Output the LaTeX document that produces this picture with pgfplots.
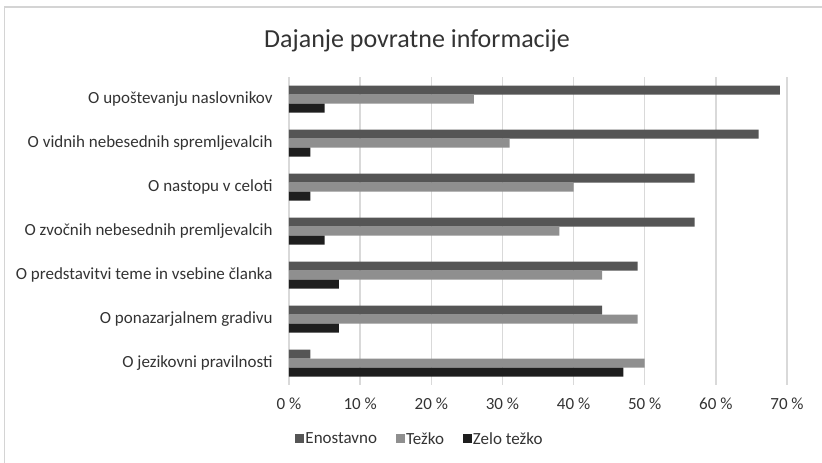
\documentclass[border=0pt]{standalone}
\usepackage{pgfplots}
\pgfplotsset{compat=1.18}
\usepackage{fontspec}
\setmainfont{Carlito}
\definecolor{cA}{HTML}{555555}
\definecolor{cB}{HTML}{8F8F8F}
\definecolor{cC}{HTML}{1E1E1E}
\definecolor{txt}{HTML}{333333}
\definecolor{gridc}{HTML}{D9D9D9}
\definecolor{border}{HTML}{D4D4D4}
\begin{document}
\begin{tikzpicture}[x=1pt,y=1pt]
\useasboundingbox (0,0) rectangle (822,463);
\draw[border, line width=1.2pt] (4.5,-10) rectangle (840,456);
\node[font=\fontsize{26}{30}\selectfont, text=txt, anchor=base, inner sep=0pt] at (417,415) {Dajanje povratne informacije};
\begin{axis}[
  at={(289pt,78pt)}, anchor=south west,
  scale only axis, width=498pt, height=308pt,
  xbar, bar width=9pt,
  xmin=0, xmax=70, ymin=-0.5, ymax=6.5,
  y dir=reverse,
  ytick={0,1,2,3,4,5,6},
  yticklabels={O upoštevanju naslovnikov, O vidnih nebesednih spremljevalcih, O nastopu v celoti, O zvočnih nebesednih premljevalcih, O predstavitvi teme in vsebine članka, O ponazarjalnem gradivu, O jezikovni pravilnosti},
  xtick={0,10,20,30,40,50,60,70},
  xticklabels={0 \%, 10 \%, 20 \%, 30 \%, 40 \%, 50 \%, 60 \%, 70 \%},
  xmajorgrids, grid style={gridc, line width=1.3pt},
  axis line style={draw=none},
  tick style={draw=none},
  tick label style={font=\fontsize{17}{20}\selectfont, text=txt},
  yticklabel style={anchor=east, inner sep=0pt, xshift=-12pt},
  xticklabel style={anchor=base, inner sep=0pt, yshift=-24pt},
  legend columns=3,
  legend style={draw=none, fill=none, at={(0.262,-0.175)}, anchor=center,
    font=\fontsize{17}{20}\selectfont, text=txt,
    nodes={inner sep=1pt},
    /tikz/every even column/.append style={column sep=18pt}},
  legend image code/.code={\fill[#1] (0pt,-4.5pt) rectangle (9pt,4.5pt);},
]
\addplot[fill=cA, draw=none, bar shift=9pt] coordinates {(69,0) (66,1) (57,2) (57,3) (49,4) (44,5) (3,6)};
\addplot[fill=cB, draw=none, bar shift=0pt] coordinates {(26,0) (31,1) (40,2) (38,3) (44,4) (49,5) (50,6)};
\addplot[fill=cC, draw=none, bar shift=-9pt] coordinates {(5,0) (3,1) (3,2) (5,3) (7,4) (7,5) (47,6)};
\legend{Enostavno, Težko, Zelo težko}
\end{axis}
\end{tikzpicture}
\end{document}
